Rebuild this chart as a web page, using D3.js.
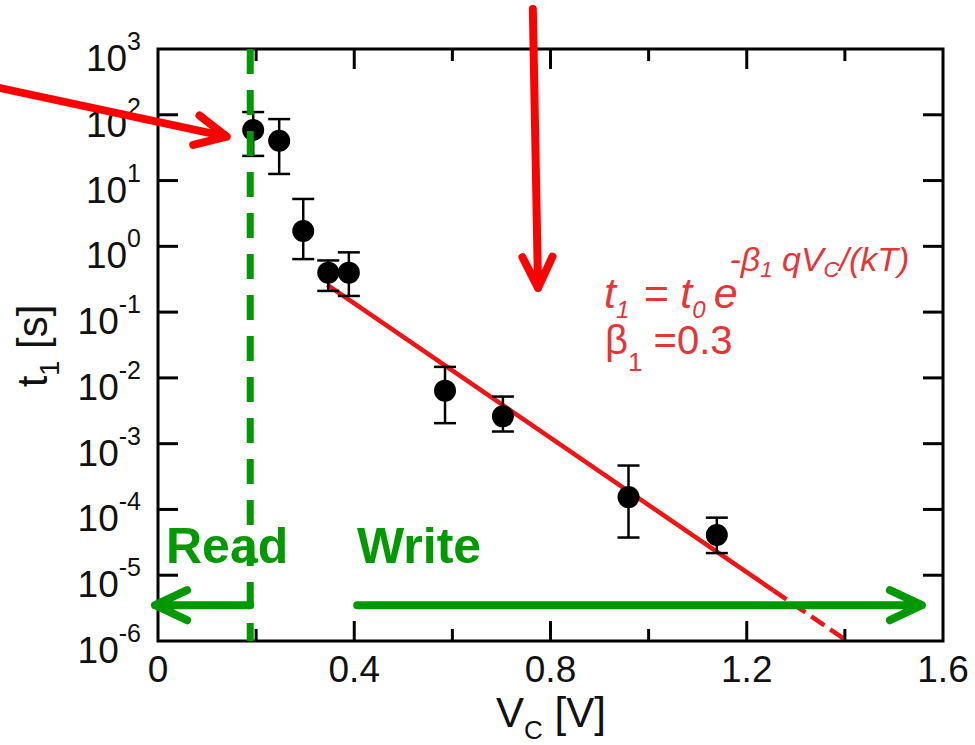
<!DOCTYPE html>
<html>
<head>
<meta charset="utf-8">
<script src="https://cdn.jsdelivr.net/npm/d3@7"></script>
<style>
  html, body { margin: 0; padding: 0; background: #fff; }
  svg { display: block; font-family: "Liberation Sans", Arial, Helvetica, sans-serif; }
</style>
</head>
<body>
<svg id="chart" width="975" height="745"></svg>
<script>
// Switching time t1 versus control voltage V_C
const voltages = [0.194, 0.247, 0.296, 0.347, 0.389, 0.585, 0.703, 0.959, 1.139];
const times    = [58.7, 40.4, 1.71, 0.398, 0.398, 0.0064, 0.0026, 1.54e-4, 4.1e-5];
const timesLo  = [23.7, 12.6, 0.64, 0.21, 0.176, 0.00205, 0.00153, 3.74e-5, 2.17e-5];
const timesHi  = [110, 86, 5.25, 0.61, 0.81, 0.0147, 0.0052, 4.65e-4, 7.5e-5];

// Exponential fit t1 = t0 exp(-beta1 q Vc / kT)
const fitT0 = 15;
const fitBeta = 0.3;
const fitKT = 0.0255;       // eV
const fitSolidRange = [0.345, 1.254];
const fitDashedRange = [1.254, 1.405];

// Axis ticks
const xLabelTicks = [0, 0.4, 0.8, 1.2, 1.6];
const xTickLabels = ["0", "0.4", "0.8", "1.2", "1.6"];
const xMajorTicks = [0.4, 0.8, 1.2];
const xMinorTicks = [0.2, 0.6, 1.0, 1.4];
const yExponents = [3, 2, 1, 0, -1, -2, -3, -4, -5, -6];

// Read / write regions
const readVoltage = 0.188;
const regionArrowLevel = 3.5e-6;
const readArrow = [readVoltage, -0.006];
const writeArrow = [0.406, 1.557];

// Pointer arrows (data units: [V, t])
const pointerArrows = [
  { from: [-0.322, 255], to: [0.140, 46.5] },
  { from: [0.764, 4055], to: [0.7746, 0.2333] }
];

const svg = d3.select("#chart");
const x = d3.scaleLinear().domain([0, 1.6]).range([158, 943]);
const y = d3.scaleLog().domain([1e-6, 1e3]).range([641, 49]);

const red = "#ff0000";
const fitRed = "#f21414";
const textRed = "#e83434";
const green = "#009a00";

svg.append("rect").attr("width", 975).attr("height", 745).attr("fill", "#fff");

// Fit line
const fitT = v => fitT0 * Math.exp(-fitBeta * v / fitKT);
const line = d3.line().x(d => x(d)).y(d => y(fitT(d)));
svg.append("path").attr("d", line(fitSolidRange))
  .attr("fill", "none").attr("stroke", fitRed).attr("stroke-width", 4.5);
svg.append("path").attr("d", line(fitDashedRange))
  .attr("fill", "none").attr("stroke", fitRed).attr("stroke-width", 4.5)
  .attr("stroke-dasharray", "16,7");

// Error bars
const capW = 11;
const eb = svg.append("g").attr("stroke", "#000").attr("stroke-width", 2.5);
voltages.forEach((v, i) => {
  const cx = x(v);
  eb.append("line").attr("x1", cx).attr("x2", cx).attr("y1", y(timesHi[i])).attr("y2", y(timesLo[i]));
  eb.append("line").attr("x1", cx - capW).attr("x2", cx + capW).attr("y1", y(timesHi[i])).attr("y2", y(timesHi[i]));
  eb.append("line").attr("x1", cx - capW).attr("x2", cx + capW).attr("y1", y(timesLo[i])).attr("y2", y(timesLo[i]));
});

// Data points
svg.append("g").selectAll("circle").data(voltages).join("circle")
  .attr("cx", d => x(d)).attr("cy", (d, i) => y(times[i])).attr("r", 11).attr("fill", "#000");

// Frame and ticks
const [x0, x1] = x.range();
const [yb, yt] = y.range();
const axes = svg.append("g").attr("stroke", "#000").attr("stroke-width", 3);
axes.append("rect").attr("x", x0).attr("y", yt).attr("width", x1 - x0).attr("height", yb - yt).attr("fill", "none");
const majorLen = 20, minorLen = 12;
xMajorTicks.forEach(v => {
  axes.append("line").attr("x1", x(v)).attr("x2", x(v)).attr("y1", yb).attr("y2", yb - majorLen);
  axes.append("line").attr("x1", x(v)).attr("x2", x(v)).attr("y1", yt).attr("y2", yt + majorLen);
});
xMinorTicks.forEach(v => {
  axes.append("line").attr("x1", x(v)).attr("x2", x(v)).attr("y1", yb).attr("y2", yb - minorLen);
  axes.append("line").attr("x1", x(v)).attr("x2", x(v)).attr("y1", yt).attr("y2", yt + minorLen);
});
yExponents.slice(1, -1).forEach(e => {
  const yy = y(Math.pow(10, e));
  axes.append("line").attr("x1", x0).attr("x2", x0 + majorLen).attr("y1", yy).attr("y2", yy);
  axes.append("line").attr("x1", x1).attr("x2", x1 - majorLen).attr("y1", yy).attr("y2", yy);
});

// Tick labels
const lab = svg.append("g").attr("fill", "#111");
xLabelTicks.forEach((v, i) => {
  lab.append("text").attr("x", x(v)).attr("y", 682).attr("text-anchor", "middle")
    .attr("font-size", 37).text(xTickLabels[i]);
});
yExponents.forEach(e => {
  const yy = y(Math.pow(10, e));
  const t = lab.append("text").attr("x", 141).attr("y", yy + 22).attr("text-anchor", "end").attr("font-size", 37);
  t.append("tspan").text("10");
  t.append("tspan").attr("font-size", 25).attr("dy", -21).text(String(e));
});

// Axis titles
const xt = lab.append("text").attr("x", 551).attr("y", 727).attr("text-anchor", "middle").attr("font-size", 42);
xt.append("tspan").text("V");
xt.append("tspan").attr("font-size", 26).attr("dy", 12).text("C");
xt.append("tspan").attr("dy", -12).text(" [V]");

const yl = lab.append("text").attr("transform", "translate(47,346) rotate(-90)")
  .attr("text-anchor", "middle").attr("font-size", 42);
yl.append("tspan").text("t");
yl.append("tspan").attr("font-size", 27).attr("dy", 12).text("1");
yl.append("tspan").attr("dy", -12).text(" [s]");

// Fit formula
const f1 = svg.append("text").attr("x", 604).attr("y", 308).attr("fill", textRed)
  .attr("font-size", 43).attr("font-style", "italic");
f1.append("tspan").text("t");
f1.append("tspan").attr("font-size", 24).attr("dy", 10).text("1");
f1.append("tspan").attr("dy", -10).attr("dx", 2).text(" = t");
f1.append("tspan").attr("font-size", 24).attr("dy", 10).text("0");
f1.append("tspan").attr("dy", -10).attr("dx", 8).text("e");
f1.append("tspan").attr("font-size", 34).attr("dy", -37).attr("dx", -8).text("-β");
f1.append("tspan").attr("font-size", 22).attr("dy", 6).text("1");
f1.append("tspan").attr("font-size", 34).attr("dy", -6).text(" qV");
f1.append("tspan").attr("font-size", 22).attr("dy", 6).text("C");
f1.append("tspan").attr("font-size", 34).attr("dy", -6).text("/(kT)");

const f2 = svg.append("text").attr("x", 605).attr("y", 354).attr("fill", textRed).attr("font-size", 40);
f2.append("tspan").text("β");
f2.append("tspan").attr("font-size", 26).attr("dy", 17).text("1");
f2.append("tspan").attr("dy", -17).text(" =" + fitBeta);

// Read boundary
svg.append("line").attr("x1", x(readVoltage)).attr("x2", x(readVoltage))
  .attr("y1", yt).attr("y2", yb).attr("stroke", green).attr("stroke-width", 7)
  .attr("stroke-dasharray", "25,16");

// Arrow helper: shaft plus open chevron head
function arrow(g, p0, p1, color, width, back, half) {
  const dx = p1[0] - p0[0], dy = p1[1] - p0[1];
  const L = Math.hypot(dx, dy), ux = dx / L, uy = dy / L;
  const bx = p1[0] - ux * back, by = p1[1] - uy * back;
  const w1 = [bx - uy * half, by + ux * half], w2 = [bx + uy * half, by - ux * half];
  return g.append("path")
    .attr("d", `M${p0[0]},${p0[1]}L${p1[0]},${p1[1]}M${w1[0]},${w1[1]}L${p1[0]},${p1[1]}L${w2[0]},${w2[1]}`)
    .attr("fill", "none").attr("stroke", color).attr("stroke-width", width)
    .attr("stroke-linecap", "round").attr("stroke-linejoin", "round");
}

const ga = svg.append("g");
const ly = y(regionArrowLevel);
arrow(ga, [x(readArrow[0]), ly], [x(readArrow[1]), ly], green, 8, 32, 15);
arrow(ga, [x(writeArrow[0]), ly], [x(writeArrow[1]), ly], green, 8, 32, 15);

svg.append("text").attr("x", 166).attr("y", 563).attr("fill", green)
  .attr("font-size", 50).attr("font-weight", "bold").text("Read");
svg.append("text").attr("x", 357).attr("y", 563).attr("fill", green)
  .attr("font-size", 50).attr("font-weight", "bold").text("Write");

const ra = svg.append("g");
pointerArrows.forEach(a => {
  arrow(ra, [x(a.from[0]), y(a.from[1])], [x(a.to[0]), y(a.to[1])], red, 8, 31, 15);
});
</script>
</body>
</html>
